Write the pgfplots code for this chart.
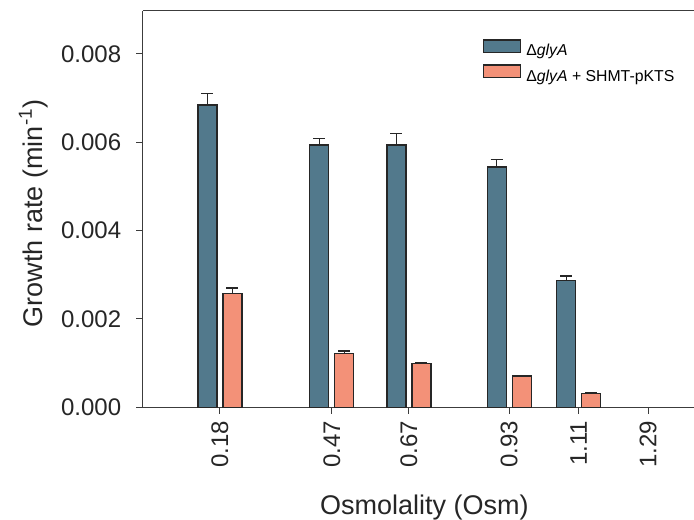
\documentclass[border=0pt]{standalone}
\usepackage{fontspec}
\setmainfont{Liberation Sans}
\usepackage{pgfplots}
\pgfplotsset{compat=1.18}
\definecolor{barblue}{RGB}{82,121,140}
\definecolor{barorange}{RGB}{243,145,120}
\definecolor{axcol}{RGB}{60,60,60}
\pgfplotsset{
  legbox/.style={legend image code/.code={\draw[##1,line width=0.7pt] (0pt,-0.3pt) rectangle (18.5pt,5.9pt);}},
  errstyle/.style={error bars/.cd, y dir=plus, y explicit,
    error bar style={black!85, line width=0.6pt},
    error mark options={rotate=90, black!85, mark size=3pt, line width=0.6pt}},
}

\begin{document}
\begin{tikzpicture}
\begin{axis}[
  name=ax,
  scale only axis,
  width=275.65pt, height=198.15pt,
  xmin=-0.02, xmax=1.409,
  ymin=0, ymax=0.00897,
  ybar, bar width=9.5pt,
  axis x line=bottom, axis y line=left,
  axis line style={-, draw=axcol, line width=0.5pt},
  tick align=outside,
  major tick length=3.25pt,
  tick style={axcol, line width=0.5pt},
  xtick={0.18,0.47,0.67,0.93,1.11,1.29},
  xticklabels={0.18,0.47,0.67,0.93,1.11,1.29},
  ytick={0,0.002,0.004,0.006,0.008},
  yticklabels={0.000,0.002,0.004,0.006,0.008},
  scaled y ticks=false,
  ticklabel style={font=\fontsize{12}{14}\selectfont, text=black!85},
  xticklabel style={rotate=90, anchor=east},
  yticklabel style={xshift=-4pt},
  xlabel={Osmolality (Osm)},
  ylabel={Growth rate (min\textsuperscript{-1})},
  label style={font=\fontsize{13.5}{16}\selectfont, text=black!85},
  xlabel style={at={(axis description cs:0.511,-0.27)}, anchor=base},
  ylabel style={at={(axis description cs:-0.182,0.49)}, anchor=base, rotate=0},
  legend style={at={(0.6164,0.93)}, anchor=north west, draw=none, fill=none,
    inner sep=0pt, font=\fontsize{7.9}{9.5}\selectfont, row sep=1.8pt,
    nodes={inner sep=1pt},
    /tikz/every odd column/.append style={column sep=1.5pt}},
  legend cell align=left,
]
% Delta glyA
\addplot[bar shift=-6.25pt, fill=barblue, draw=black!85,
  line width=0.7pt, legbox, errstyle]
coordinates {
  (0.18,0.006845) +- (0,0.000265)
  (0.47,0.005933) +- (0,0.000158)
  (0.67,0.005933) +- (0,0.000256)
  (0.93,0.005435) +- (0,0.000181)
  (1.11,0.002867) +- (0,0.000106)
};
% Delta glyA + SHMT-pKTS
\addplot[bar shift=6.25pt, fill=barorange, draw=black!85,
  line width=0.7pt, legbox, errstyle]
coordinates {
  (0.18,0.002581) +- (0,0.00012)
  (0.47,0.001223) +- (0,0.00005)
  (0.67,0.000996) +- (0,0.00001)
  (0.93,0.000709) +- (0,0.00001)
  (1.11,0.000317) +- (0,0.00001)
};
\legend{Δ\textit{glyA}, Δ\textit{glyA} + SHMT-pKTS}
\draw[axcol, line width=0.5pt] (rel axis cs:0,1) -- (rel axis cs:1,1);
\end{axis}
\pgfresetboundingbox
\path ([shift={(-71.35pt,-55.85pt)}]ax.south west) rectangle ([shift={(275.65pt,203.65pt)}]ax.south west);
\end{tikzpicture}
\end{document}
